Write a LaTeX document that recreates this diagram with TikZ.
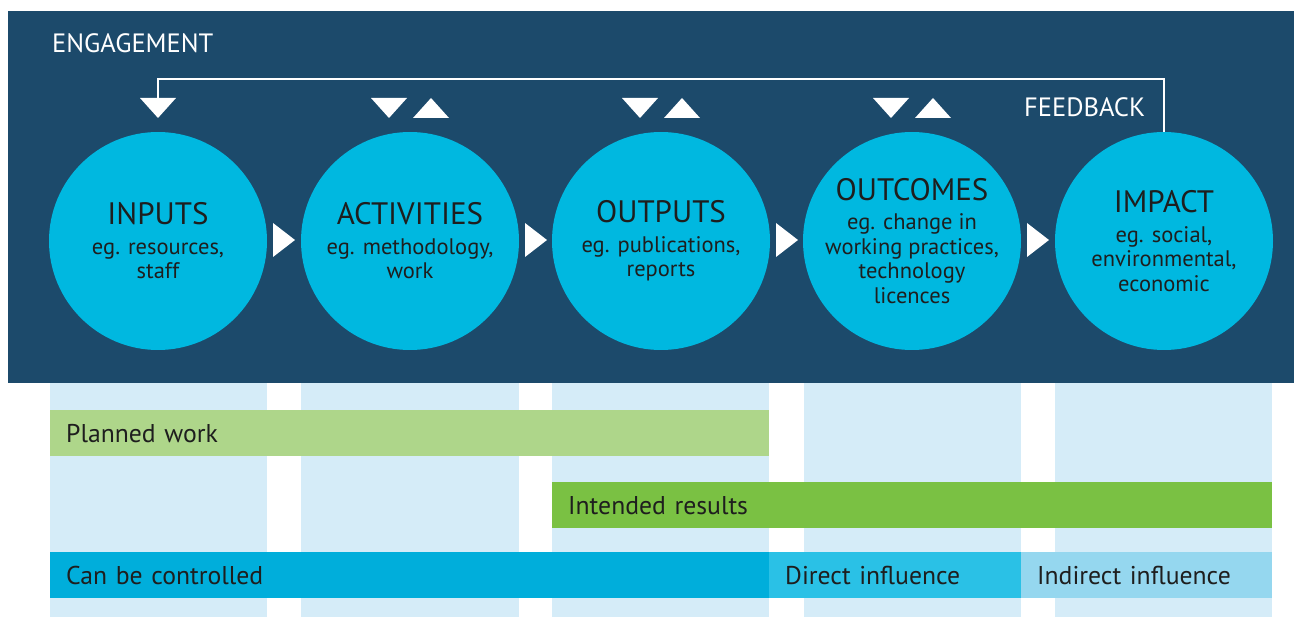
\documentclass[tikz,border=0pt]{standalone}
\usepackage{fontspec}
\setmainfont{PT Sans}
\usetikzlibrary{positioning}

\definecolor{navy}{HTML}{1C4A6B}
\definecolor{stagecyan}{HTML}{00B8E0}
\definecolor{pale}{HTML}{D5ECF8}
\definecolor{planned}{HTML}{AED68A}
\definecolor{intended}{HTML}{7AC143}
\definecolor{controlled}{HTML}{00AEDB}
\definecolor{direct}{HTML}{2AC1E6}
\definecolor{indirect}{HTML}{95D7EF}
\definecolor{ink}{HTML}{1E1E1E}

\tikzset{
  stage/.style={circle, fill=stagecyan, minimum size=218pt, inner sep=0pt,
    align=center, text=ink, font=\fontsize{22.5}{24.5}\selectfont},
  column/.style={fill=pale},
  bar/.style={rectangle, anchor=north west, minimum height=46pt, inner xsep=16pt,
    inner ysep=0pt, align=left, text=ink, font=\fontsize{25.7}{28}\selectfont},
  label/.style={anchor=base west, text=white, inner sep=0pt, font=\fontsize{26.5}{30}\selectfont}
}
\newcommand{\stagetitle}[1]{{\fontsize{31}{33}\selectfont #1}}

\begin{document}
\begin{tikzpicture}[x=1pt,y=-1pt]
\useasboundingbox (0,0) rectangle (1294,617);
\fill[white] (0,0) rectangle (1294,617);
% light columns under the stages
\fill[column] (50,383) rectangle (267,617);
\fill[column] (301,383) rectangle (519,617);
\fill[column] (552,383) rectangle (769,617);
\fill[column] (804,383) rectangle (1021,617);
\fill[column] (1055,383) rectangle (1272,617);
% engagement band
\fill[navy] (8,11) rectangle (1294,383);
\node[label] (eng) at (52,53) {ENGAGEMENT};
\node[label] (fbk) at (1024,117) {FEEDBACK};

\node[stage] (in) at (158,241) {\stagetitle{INPUTS}\\[5pt] eg. resources,\\ staff};
\node[stage] (act) at (410,241) {\stagetitle{ACTIVITIES}\\[5pt] eg. methodology,\\ work};
\node[stage] (out) at (661,241) {\stagetitle{OUTPUTS}\\[5pt] eg. publications,\\ reports};
\node[stage] (oc) at (912,241) {\stagetitle{OUTCOMES}\\[5pt] eg. change in\\ working practices,\\ technology\\ licences};
\node[stage] (imp) at (1164,241) {\stagetitle{IMPACT}\\[5pt] eg. social,\\ environmental,\\ economic};

% arrows between stages
\fill[white] (273,223) -- (295,240) -- (273,257) -- cycle;
\fill[white] (525,223) -- (547,240) -- (525,257) -- cycle;
\fill[white] (776,223) -- (798,240) -- (776,257) -- cycle;
\fill[white] (1027,223) -- (1049,240) -- (1027,257) -- cycle;

% two way triangles
\fill[white] (371,98) -- (407,98) -- (389,118) -- cycle;
\fill[white] (413,118) -- (449,118) -- (431,98) -- cycle;
\fill[white] (622,98) -- (658,98) -- (640,118) -- cycle;
\fill[white] (664,118) -- (700,118) -- (682,98) -- cycle;
\fill[white] (873,98) -- (909,98) -- (891,118) -- cycle;
\fill[white] (915,118) -- (951,118) -- (933,98) -- cycle;

% feedback loop
\coordinate (fb) at (158,98);
\fill[white] (140,98) -- (176,98) -- (158,118) -- cycle;
\draw[white, line width=1.5pt] (fb) -- ++(0,-19) -| (imp.north);

% bars
\node[bar, fill=planned, text width=687pt] (plan) at (50,410) {Planned work};
\node[bar, fill=intended, text width=688pt] (res) at (552,482) {Intended results};
\node[bar, fill=controlled, text width=687pt] (ctrl) at (50,552) {Can be controlled};
\node[bar, fill=direct, text width=220pt] (dir) at (769,552) {Direct influence};
\node[bar, fill=indirect, text width=219pt] (ind) at (1021,552) {Indirect influence};
\end{tikzpicture}
\end{document}
